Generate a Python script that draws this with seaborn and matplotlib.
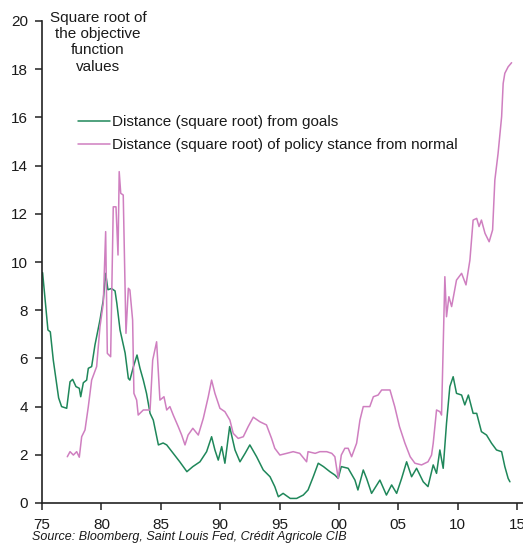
import matplotlib
matplotlib.use("Agg")
import matplotlib.pyplot as plt
import seaborn as sns
import pandas as pd

# Data (decimal years, square-root objective values)
goals_years = [
    1975.05, 1975.5, 1975.7, 1975.95, 1976.4, 1976.65, 1977.08, 1977.36, 1977.58, 1977.86,
    1978.14, 1978.26, 1978.48, 1978.76, 1978.9, 1979.18, 1979.46, 1979.88, 1980.16, 1980.36,
    1980.55, 1980.85, 1981.15, 1981.3, 1981.57, 1982.0, 1982.27, 1982.4, 1982.7, 1983.0,
    1983.25, 1983.53, 1983.8, 1984.1, 1984.37, 1984.8, 1985.2, 1985.5, 1986.05, 1986.6,
    1987.2, 1987.7, 1988.3, 1988.86, 1989.28, 1989.56, 1989.84, 1990.13, 1990.4, 1990.8,
    1991.25, 1991.67, 1992.1, 1992.5, 1993.07, 1993.63, 1994.2, 1994.6, 1994.9, 1995.3,
    1995.9, 1996.44, 1997.0, 1997.4, 1997.84, 1998.26, 1998.7, 1999.24, 1999.66, 1999.94,
    2000.2, 2000.78, 2001.35, 2001.6, 2002.05, 2002.33, 2002.75, 2003.45, 2004.0, 2004.44,
    2004.86, 2005.28, 2005.7, 2006.12, 2006.54, 2007.1, 2007.5, 2007.94, 2008.22, 2008.5,
    2008.78, 2009.06, 2009.34, 2009.62, 2009.9, 2010.33, 2010.6, 2010.9, 2011.3, 2011.6,
    2012.0, 2012.43, 2012.85, 2013.27, 2013.7, 2013.97, 2014.25, 2014.4,
]
goals_values = [
    9.56, 7.18, 7.10, 5.93, 4.36, 4.00, 3.93, 5.03, 5.13, 4.83,
    4.76, 4.41, 4.99, 5.10, 5.59, 5.66, 6.56, 7.59, 8.42, 9.53,
    8.85, 8.90, 8.80, 8.29, 7.18, 6.22, 5.17, 5.10, 5.66, 6.14,
    5.59, 5.10, 4.55, 3.72, 3.44, 2.41, 2.49, 2.41, 2.06, 1.71,
    1.30, 1.51, 1.71, 2.13, 2.75, 2.20, 1.78, 2.34, 1.65, 3.17,
    2.20, 1.71, 2.06, 2.41, 1.92, 1.37, 1.09, 0.68, 0.26, 0.40,
    0.19, 0.19, 0.33, 0.54, 1.09, 1.65, 1.51, 1.30, 1.16, 1.02,
    1.51, 1.44, 0.95, 0.54, 1.37, 1.02, 0.40, 0.95, 0.33, 0.75,
    0.40, 1.02, 1.71, 1.09, 1.44, 0.88, 0.68, 1.58, 1.23, 2.20,
    1.44, 3.31, 4.83, 5.24, 4.55, 4.48, 4.07, 4.48, 3.72, 3.72,
    2.96, 2.82, 2.48, 2.20, 2.13, 1.51, 1.02, 0.88,
]

stance_years = [
    1977.13, 1977.36, 1977.64, 1977.92, 1978.14, 1978.34, 1978.62, 1978.9, 1979.18, 1979.6,
    1979.88, 1980.16, 1980.36, 1980.5, 1980.78, 1981.0, 1981.23, 1981.4, 1981.5, 1981.63,
    1981.84, 1982.07, 1982.27, 1982.4, 1982.63, 1982.74, 1982.97, 1983.1, 1983.53, 1984.1,
    1984.32, 1984.65, 1984.93, 1985.27, 1985.5, 1985.77, 1986.05, 1986.47, 1986.76, 1987.04,
    1987.3, 1987.7, 1988.16, 1988.58, 1989.0, 1989.28, 1989.56, 1989.98, 1990.4, 1990.82,
    1991.1, 1991.52, 1991.95, 1992.36, 1992.79, 1993.35, 1993.9, 1994.33, 1994.6, 1995.03,
    1995.6, 1996.15, 1996.7, 1997.28, 1997.4, 1998.0, 1998.4, 1998.97, 1999.4, 1999.66,
    1999.94, 2000.2, 2000.5, 2000.78, 2001.07, 2001.49, 2001.77, 2002.05, 2002.6, 2002.9,
    2003.3, 2003.6, 2004.3, 2004.7, 2005.1, 2005.56, 2006.0, 2006.4, 2006.96, 2007.5,
    2007.8, 2007.94, 2008.22, 2008.5, 2008.64, 2008.78, 2008.92, 2009.06, 2009.26, 2009.49,
    2009.9, 2010.33, 2010.7, 2011.03, 2011.3, 2011.6, 2011.8, 2012.0, 2012.3, 2012.65,
    2012.94, 2013.13, 2013.4, 2013.7, 2013.83, 2013.97, 2014.25, 2014.54,
]
stance_values = [
    1.92, 2.13, 1.99, 2.13, 1.90, 2.75, 3.03, 4.00, 5.10, 5.66,
    7.31, 8.29, 11.26, 6.21, 6.07, 12.29, 12.29, 10.29, 13.75, 12.85,
    12.78, 7.04, 8.91, 8.84, 7.59, 4.55, 4.27, 3.65, 3.86, 3.86,
    5.93, 6.69, 4.27, 4.41, 3.86, 4.00, 3.65, 3.17, 2.82, 2.41,
    2.82, 3.10, 2.82, 3.51, 4.41, 5.10, 4.55, 3.93, 3.79, 3.44,
    2.89, 2.68, 2.75, 3.17, 3.56, 3.37, 3.24, 2.68, 2.27, 1.99,
    2.06, 2.13, 2.06, 1.71, 2.13, 2.06, 2.13, 2.13, 2.06, 1.92,
    1.02, 1.99, 2.27, 2.27, 1.92, 2.48, 3.44, 4.00, 4.00, 4.41,
    4.48, 4.69, 4.69, 4.00, 3.17, 2.48, 1.92, 1.65, 1.58, 1.71,
    1.99, 2.48, 3.86, 3.79, 3.65, 6.49, 9.39, 7.73, 8.56, 8.15,
    9.25, 9.53, 9.05, 10.08, 11.74, 11.81, 11.47, 11.74, 11.19, 10.84,
    11.33, 13.40, 14.50, 16.03, 17.41, 17.83, 18.10, 18.27,
]

goals_label = "Distance (square root) from goals"
stance_label = "Distance (square root) of policy stance from normal"
x_ticks = [1975, 1980, 1985, 1990, 1995, 2000, 2005, 2010, 2015]
y_ticks = [0, 2, 4, 6, 8, 10, 12, 14, 16, 18, 20]

df = pd.concat([
    pd.DataFrame({"year": goals_years, "value": goals_values, "series": goals_label}),
    pd.DataFrame({"year": stance_years, "value": stance_values, "series": stance_label}),
], ignore_index=True)

sns.set_theme(style="ticks")
plt.rcParams["font.family"] = ["Liberation Sans", "DejaVu Sans"]
text_col = "#1a1a1a"

fig = plt.figure(figsize=(5.23, 5.44), dpi=100)
ax = fig.add_axes([42 / 523, 1 - 503 / 544, 481 / 523, 482 / 544])

sns.lineplot(data=df, x="year", y="value", hue="series", estimator=None, sort=False,
             palette={goals_label: "#1f875a", stance_label: "#cf7fc0"},
             linewidth=1.1, ax=ax)

ax.set_xlim(1975, 2015.5)
ax.set_ylim(0, 20)
ax.set_xticks(x_ticks)
ax.set_xticklabels([f"{y % 100:02d}" for y in x_ticks])
ax.set_yticks(y_ticks)
ax.set_xlabel("")
ax.set_ylabel("")
for s in ["top", "right"]:
    ax.spines[s].set_visible(False)
for s in ["left", "bottom"]:
    ax.spines[s].set_color("#222222")
    ax.spines[s].set_linewidth(1.2)
ax.tick_params(axis="both", direction="out", length=5, width=1.1, color="#222222",
               labelsize=11, labelcolor=text_col)
ax.tick_params(axis="x", pad=6)
ax.tick_params(axis="y", pad=5)

ax.legend(loc="upper left", bbox_to_anchor=((78 - 42) / 481, (503 - 115) / 482),
          frameon=False, fontsize=11, handlelength=2.1, handletextpad=0.15,
          labelspacing=0.58, borderpad=0, borderaxespad=0, labelcolor=text_col)

fig.text(98 / 523, 1 - 11 / 544, "Square root of\nthe objective\nfunction\nvalues",
         ha="center", va="top", fontsize=11, linespacing=1.2, color=text_col)
fig.text(32 / 523, 1 - 531 / 544, "Source: Bloomberg, Saint Louis Fed, Crédit Agricole CIB",
         ha="left", va="top", fontsize=9, style="italic", color=text_col)

fig.savefig("out.png", dpi=100)
